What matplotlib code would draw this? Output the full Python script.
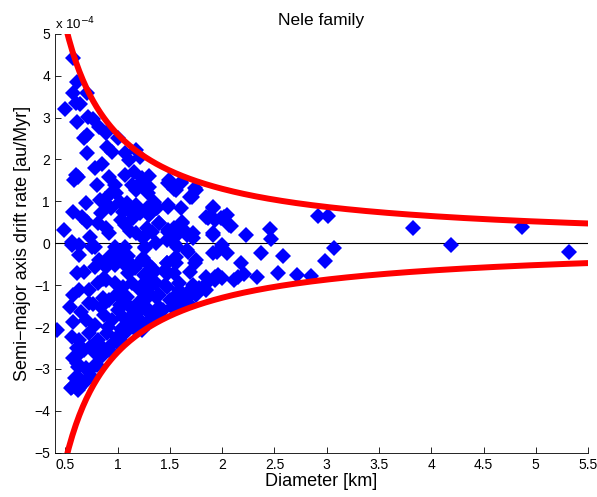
import numpy as np
import matplotlib.pyplot as plt
from matplotlib.ticker import FuncFormatter

plt.rcParams['font.family'] = ['Liberation Sans', 'DejaVu Sans']

# diameter [km] and drift rate [1e-4 au/Myr] of the family members
diam = [0.57, 0.61, 0.57, 0.60, 0.64, 0.50, 0.71, 0.61, 0.72, 0.76, 0.82, 0.68, 0.71, 0.89,
        0.71, 0.78, 0.85, 0.90, 0.95, 1.00, 1.07, 1.11, 1.18, 1.21, 0.60, 0.62, 0.58, 0.80,
        0.92, 0.97, 1.07, 1.14, 1.18, 1.21, 1.28, 1.30, 1.48, 1.56, 1.61, 1.75, 0.70, 0.83,
        0.90, 1.02, 1.09, 1.18, 1.35, 1.48, 1.71, 0.57, 0.71, 0.84, 0.94, 1.05, 1.11, 1.21,
        1.29, 1.37, 0.81, 0.89, 0.92, 1.07, 1.18, 1.28, 1.40, 1.48, 1.54, 1.62, 1.66, 1.72,
        1.91, 1.93, 1.85, 1.91, 0.49, 0.56, 0.63, 0.75, 0.97, 1.07, 1.26, 1.47, 1.54,
        1.49, 1.54, 1.61, 1.74, 1.69, 1.28, 1.29, 1.35, 1.28, 1.30, 1.38, 1.48, 1.61, 1.86,
        1.91, 1.99, 2.05, 2.07, 1.40, 1.62, 1.48, 1.54, 1.59, 1.66, 1.72, 1.91, 1.24, 1.33,
        1.52, 1.16, 1.23, 1.30, 0.74, 0.66, 0.98, 1.03, 1.12, 0.88, 0.95, 1.15,
        2.92, 3.01, 3.83, 4.19, 4.87, 5.32, 3.07, 2.98, 2.85, 2.72, 2.53, 2.58, 2.47, 2.46,
        2.37, 2.33, 2.23, 2.21, 2.18, 2.11, 2.08, 2.02,
        0.56, 0.42, 0.63, 0.78, 0.61, 0.68, 0.78, 0.89, 0.97, 1.05, 1.13, 1.21, 1.30, 1.47,
        1.56, 1.66, 1.75, 1.91, 0.63, 0.57, 0.73, 0.81, 0.89, 0.97, 1.05, 1.14, 1.21, 1.29,
        1.37, 1.47, 1.59, 1.69, 1.85, 1.93, 0.54, 0.65, 0.73, 0.84, 0.92, 1.02, 1.09, 1.19,
        1.28, 1.37, 1.56, 1.66, 1.75, 0.57, 0.70, 0.78, 0.87, 0.95, 1.05, 1.14, 1.21, 1.30,
        1.43, 1.52, 0.56, 0.63, 0.73, 0.81, 0.90, 0.99, 1.08, 1.16, 0.61, 0.68, 0.78, 0.87,
        0.94, 1.02, 0.61, 0.70, 0.80, 0.56, 0.62, 0.68, 0.75, 0.63,
        1.26, 1.37, 1.57, 1.67, 1.95, 2.05, 2.00, 1.47, 1.56, 1.69, 1.74, 1.48, 1.54, 1.96,
        1.93, 2.00, 1.86, 2.15, 1.26, 1.35, 1.45, 1.59, 1.62, 1.72, 1.78, 1.76, 1.85, 1.30,
        1.40, 1.50, 1.59, 1.67, 1.40, 1.29, 1.37, 1.28, 1.23,
        0.55, 0.63, 0.68, 0.59, 0.62, 0.71, 0.78, 0.57, 0.64, 0.74, 0.84, 0.83, 0.92, 1.00,
        0.93, 1.01, 1.10, 1.17, 1.25, 0.86, 0.99, 1.06, 1.13, 1.20, 0.91, 1.03, 1.12, 1.16,
        0.82, 0.96, 1.04, 1.10, 1.24, 1.33, 0.76, 0.86, 1.00, 1.15, 1.26, 1.34, 1.44]
drift = [4.42, 3.84, 3.58, 3.34, 3.32, 3.20, 3.58, 2.89, 3.01, 2.96, 2.77, 2.51, 2.58, 2.63,
         2.15, 1.79, 1.89, 2.29, 2.17, 2.51, 2.15, 1.98, 2.22, 2.05, 1.62, 1.58, 1.50, 1.38,
         1.58, 1.38, 1.62, 1.38, 1.26, 1.43, 1.31, 1.34, 1.43, 1.26, 1.43, 1.26, 0.95, 1.03,
         0.91, 0.98, 0.95, 0.91, 0.95, 0.91, 1.10, 0.74, 0.50, 0.72, 0.84, 0.74, 0.79, 0.72,
         0.74, 0.84, 0.48, 0.36, 0.24, 0.43, 0.24, 0.36, 0.48, 0.26, 0.31, 0.48, 0.24, 0.24,
         0.86, 0.55, 0.62, 0.24, 0.31, 0.02, -0.05, -0.10, -0.10, -0.10, -0.10, 0.07, 0.00,
         1.50, 1.29, 1.46, 1.31, 1.10, 1.31, 1.19, 0.98, 0.84, 0.67, 0.84, 0.86, 0.84, 0.60,
         0.84, 0.60, 0.67, 0.43, 0.48, 0.50, 0.31, 0.36, 0.24, 0.19, 0.12, 0.19, 0.12, 0.26,
         0.12, 1.70, 1.55, 1.60, 0.15, 0.62, 1.20, 0.55, 0.30, 1.05, 1.22, 0.60,
         0.64, 0.64, 0.36, -0.05, 0.38, -0.21, -0.12, -0.43, -0.78, -0.76, -0.72, -0.31, 0.10, 0.33,
         -0.24, -0.81, 0.19, -0.74, -0.48, -0.88, 0.41, 0.62,
         -0.05, -2.08, -0.29, -0.10, -0.72, -0.69, -0.57, -0.57, -0.52, -0.48, -0.64, -0.45, -0.52, -0.48,
         -0.33, -0.17, -0.41, -0.24, -1.12, -1.24, -1.12, -0.95, -0.88, -0.95, -1.05, -0.95, -1.12, -0.88,
         -0.95, -1.05, -0.95, -1.12, -0.81, -0.81, -1.53, -1.65, -1.43, -1.53, -1.36, -1.48, -1.29, -1.43,
         -1.31, -1.29, -1.24, -1.31, -1.24, -1.89, -1.84, -1.96, -1.72, -1.84, -1.77, -1.72, -1.84, -1.65,
         -1.60, -1.53, -2.24, -2.32, -2.15, -2.32, -2.15, -2.24, -2.12, -2.03, -2.51, -2.55, -2.63, -2.55,
         -2.43, -2.32, -2.86, -2.98, -2.91, -3.44, -3.51, -3.34, -3.20, -3.22,
         -0.12, 0.00, -0.10, -0.21, -0.21, -0.24, -0.05, -0.48, -0.48, -0.69, -0.48, -0.72, -0.72, -0.76,
         -0.88, -0.84, -0.93, -0.81, -0.93, -0.95, -1.00, -1.12, -1.24, -1.00, -1.07, -1.19, -1.12, -1.19,
         -1.24, -1.36, -1.48, -1.43, -1.53, -1.65, -1.77, -1.91, -2.08,
         -3.46, -3.46, -3.32, -3.22, -2.96, -3.03, -2.91, -2.74, -2.63, -2.48, -2.72, -2.43, -2.55, -2.39,
         -0.30, -0.40, -0.70, -0.60, -0.75, -1.30, -1.20, -1.40, -1.55, -1.62, -2.00, -2.05, -1.95, -1.55,
         -0.40, -0.35, -0.25, -0.30, -0.35, -0.60, -1.45, -0.85, -1.60, -0.55, -1.50, -0.70, -0.65]

# Yarkovsky drift envelope, da/dt = c / D
coef = 2.6e-4
d_curve = np.linspace(0.5, 5.5, 300)

fig = plt.figure(figsize=(5.97, 4.97), dpi=100)
ax = fig.add_axes([0.092, 0.089, 0.893, 0.843])

ax.axhline(0, color='black', lw=0.8)
ax.plot(diam, np.array(drift) * 1e-4, 'D', color='blue', markersize=7.8, markeredgewidth=0)
ax.plot(d_curve, coef / d_curve, color='red', lw=4.3)
ax.plot(d_curve, -coef / d_curve, color='red', lw=4.3)

ax.set_xlim(0.4, 5.5)
ax.set_ylim(-5e-4, 5e-4)
ax.set_xticks(np.arange(0.5, 5.51, 0.5))
ax.set_yticks(np.arange(-5, 6) * 1e-4)
ax.xaxis.set_major_formatter(FuncFormatter(lambda v, p: f'{v:g}'))
ax.yaxis.set_major_formatter(FuncFormatter(lambda v, p: f'{round(v * 1e4):d}'.replace('-', '\u2212')))
ax.tick_params(direction='in', labelsize=10, length=4, width=0.6)
for side in ['top', 'right']:
    ax.spines[side].set_visible(False)
for side in ['left', 'bottom']:
    ax.spines[side].set_linewidth(0.6)

ax.text(0.0, 1.003, r'x 10$^{-4}$', transform=ax.transAxes, fontsize=9.5, va='bottom', ha='left')
ax.set_title('Nele family', fontsize=12.5, pad=6)
ax.set_xlabel('Diameter [km]', fontsize=13, labelpad=1)
ax.set_ylabel('Semi\u2212major axis drift rate [au/Myr]', fontsize=13, labelpad=2)

fig.savefig('out.png', dpi=100)
